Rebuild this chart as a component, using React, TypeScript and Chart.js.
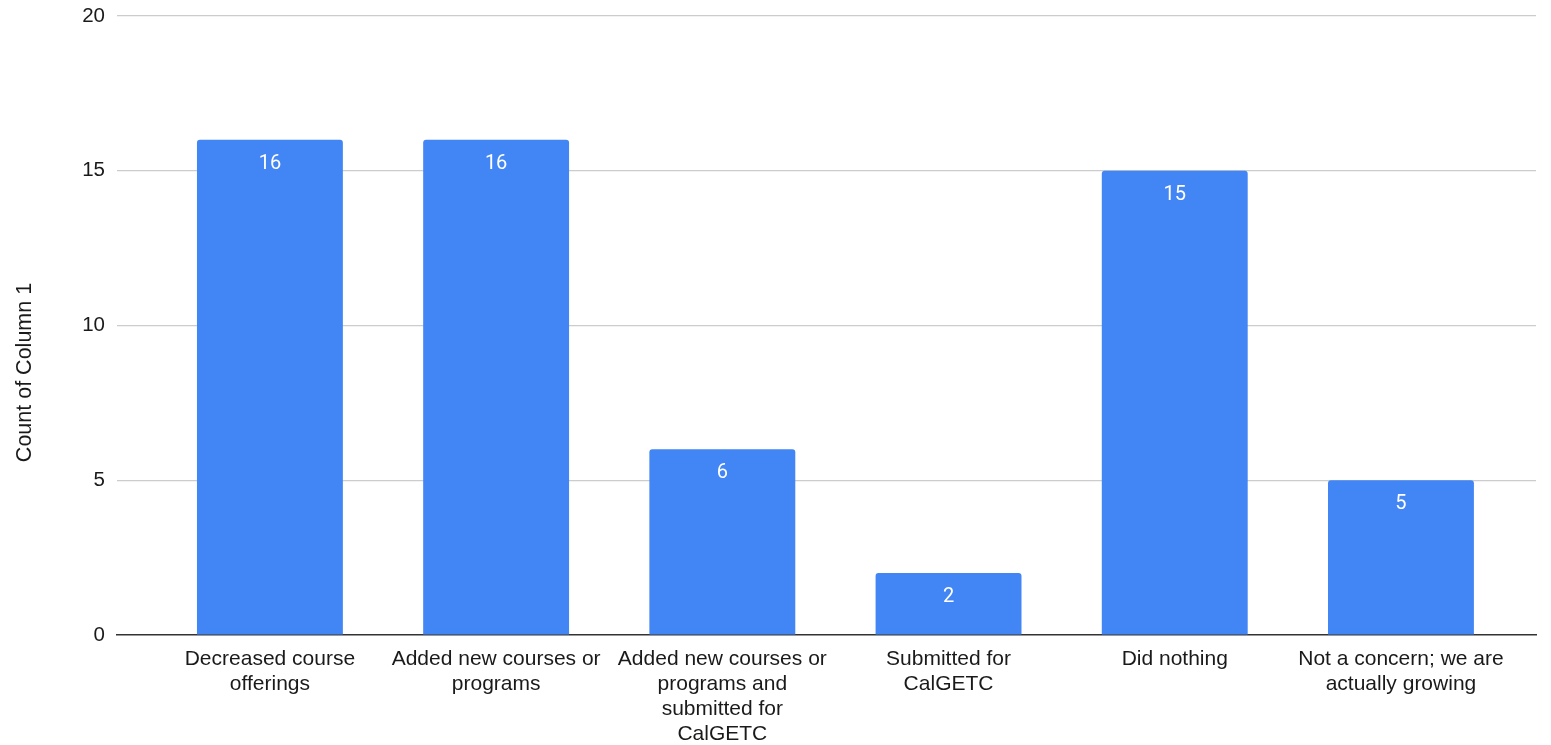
import React, { useEffect, useRef } from "react";
import { Chart, registerables } from "chart.js";

Chart.register(...registerables);

const categories: string[][] = [
  ["Decreased course", "offerings"],
  ["Added new courses or", "programs"],
  ["Added new courses or", "programs and", "submitted for", "CalGETC"],
  ["Submitted for", "CalGETC"],
  ["Did nothing"],
  ["Not a concern; we are", "actually growing"],
];
const counts: number[] = [16, 16, 6, 2, 15, 5];
const yTicks: number[] = [0, 5, 10, 15, 20];
const yTitle = "Count of Column 1";

const BAR_COLOR = "#4285F4";
const TEXT_FONT = "Arial, 'Liberation Sans', sans-serif";
const TEXT_COLOR = "#1a1a1a";

const valueLabels = {
  id: "valueLabels",
  afterDatasetsDraw(chart: any) {
    const ctx = chart.ctx;
    const meta = chart.getDatasetMeta(0);
    ctx.save();
    ctx.fillStyle = "#ffffff";
    ctx.font = "20px Roboto, 'Noto Sans', sans-serif";
    ctx.textAlign = "center";
    ctx.textBaseline = "middle";
    meta.data.forEach((bar: any, i: number) => {
      ctx.fillText(String(counts[i]), bar.x, bar.y + 24);
    });
    ctx.restore();
  },
};

const yTitlePlugin = {
  id: "yTitlePlugin",
  afterDraw(chart: any) {
    const ctx = chart.ctx;
    ctx.save();
    ctx.fillStyle = TEXT_COLOR;
    ctx.font = "21.5px " + TEXT_FONT;
    ctx.textAlign = "center";
    ctx.textBaseline = "middle";
    ctx.translate(25, chart.height / 2);
    ctx.rotate(-Math.PI / 2);
    ctx.fillText(yTitle, 0, 0);
    ctx.restore();
  },
};

export default function App() {
  const ref = useRef<HTMLCanvasElement | null>(null);
  useEffect(() => {
    if (!ref.current) return;
    const chart = new Chart(ref.current, {
      type: "bar",
      data: {
        datasets: [
          {
            data: counts.map((v, i) => ({ x: i, y: v })),
            backgroundColor: BAR_COLOR,
            borderRadius: 3,
            borderSkipped: "start",
            categoryPercentage: 1,
            barPercentage: 0.645,
          },
        ],
      },
      options: {
        animation: false,
        responsive: false,
        maintainAspectRatio: false,
        layout: { padding: { left: 0, top: 16, right: 15, bottom: 0 } },
        plugins: {
          legend: { display: false },
          tooltip: { enabled: false },
        },
        scales: {
          x: {
            type: "linear",
            offset: false,
            min: -0.676,
            max: 5.597,
            afterBuildTicks: (scale: any) => {
              scale.ticks = categories.map((_, i) => ({ value: i }));
            },
            afterFit: (scale: any) => {
              scale.height = 110;
              scale.paddingLeft = 0;
              scale.paddingRight = 0;
            },
            ticks: {
              autoSkip: false,
              maxRotation: 0,
              minRotation: 0,
              padding: 12,
              color: TEXT_COLOR,
              font: { family: TEXT_FONT, size: 21, lineHeight: 1.19 },
              callback: (value: any) => categories[Math.round(Number(value))] ?? "",
            },
            grid: { display: false, drawTicks: false },
            border: { display: true, color: "#333333", width: 1.5 },
          },
          y: {
            min: 0,
            max: 20,
            afterBuildTicks: (scale: any) => {
              scale.ticks = yTicks.map((v) => ({ value: v }));
            },
            afterFit: (scale: any) => {
              scale.width = 117;
              scale.paddingTop = 0;
              scale.paddingBottom = 0;
            },
            ticks: {
              padding: 12,
              color: TEXT_COLOR,
              font: { family: TEXT_FONT, size: 20.5 },
            },
            grid: {
              drawTicks: false,
              color: (c: any) => (c.tick && c.tick.value === 0 ? "rgba(0,0,0,0)" : "#cccccc"),
              lineWidth: 1.2,
            },
            border: { display: false },
          },
        },
      },
      plugins: [valueLabels, yTitlePlugin],
    });
    return () => chart.destroy();
  }, []);
  return (
    <div style={{ position: "fixed", left: 0, top: 0, width: 1551, height: 745, background: "#fff" }}>
      <canvas ref={ref} width={1551} height={745} style={{ width: 1551, height: 745 }} />
    </div>
  );
}
